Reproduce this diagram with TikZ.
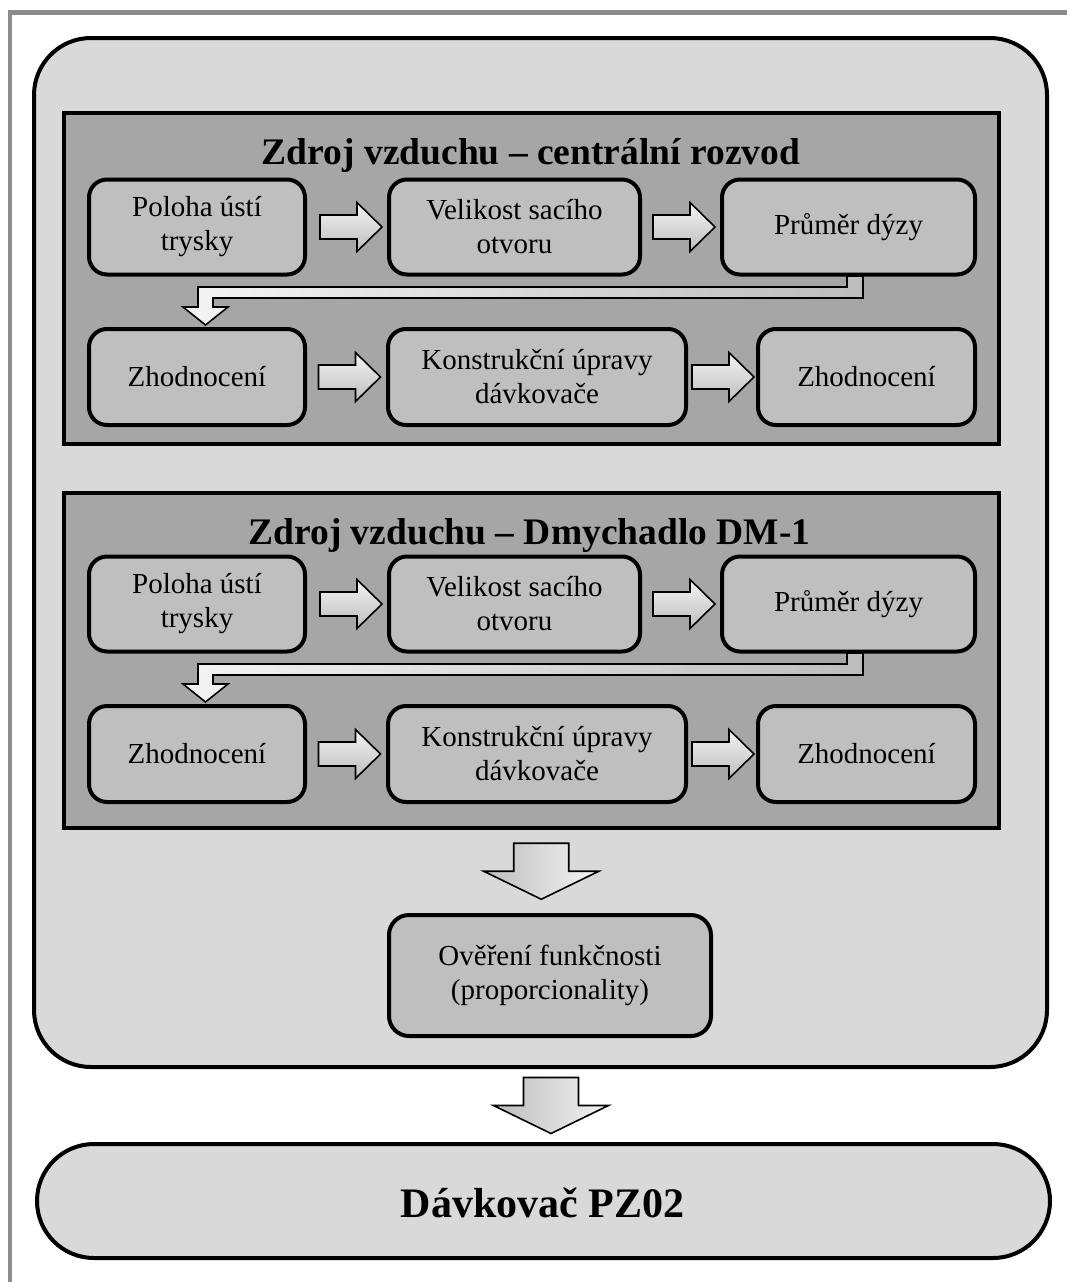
\documentclass[tikz,border=0pt]{standalone}
\usepackage{fontspec}
\setmainfont{Liberation Serif}
\usetikzlibrary{calc}
\definecolor{framegray}{HTML}{8C8C8C}
\definecolor{outerfill}{HTML}{D9D9D9}
\definecolor{secfill}{HTML}{A6A6A6}
\definecolor{boxfill}{HTML}{BFBFBF}
\definecolor{arrlight}{HTML}{F4F4F4}
\definecolor{arrdark}{HTML}{BDBDBD}
\tikzset{
 stepbox/.style={draw=black, line width=4pt, fill=boxfill, rounded corners=18pt, align=center,
   font=\fontsize{29}{34}\selectfont, inner sep=0pt},
 secbox/.style={draw=black, line width=4pt, fill=secfill, inner sep=0pt},
 titletext/.style={font=\fontsize{37.5}{40}\selectfont\bfseries, anchor=base, inner sep=0pt},
 arrowshape/.style={draw=black, line width=1.6pt, line join=miter},
 rarr/.pic={\draw[arrowshape, top color=arrlight, bottom color=arrdark]
   (-31,-12) -- (6,-12) -- (6,-24.5) -- (31,0) -- (6,24.5) -- (6,12) -- (-31,12) -- cycle;},
 darr/.pic={\draw[arrowshape, left color=arrdark, right color=arrlight]
   (-27.5,-28) -- (27.5,-28) -- (27.5,0) -- (57.5,0) -- (0,28) -- (-57.5,0) -- (-27.5,0) -- cycle;},
}
\begin{document}
\begin{tikzpicture}[x=1pt,y=-1pt]
\useasboundingbox (0,0) rectangle (1067,1282);
\fill[white] (0,0) rectangle (1067,1282);
\draw[framegray, line width=4.5pt] (10,1290) -- (10,12.5) -- (1075,12.5);

% outer container
\node[draw=black, line width=4pt, fill=outerfill, rounded corners=57pt,
  minimum width=1013pt, minimum height=1029pt, inner sep=0pt] (outer) at (540.5,552.5) {};

% ---------- section 1 ----------
\node[secbox, minimum width=935pt, minimum height=331pt] (sec1) at (531.5,278.5) {};
\node[titletext] (t1) at (531,164) {Zdroj vzduchu – centrální rozvod};
\draw[arrowshape, left color=arrlight, right color=arrdark]
  (847,276) -- (863,276) -- (863,298) -- (213,298) -- (213,307) -- (228,307) -- (205.5,325)
  -- (183,307) -- (198,307) -- (198,287) -- (847,287) -- cycle;
\node[stepbox, minimum width=216pt, minimum height=95pt] (b1) at (197,227) {Poloha ústí\\trysky};
\node[stepbox, minimum width=251pt, minimum height=95pt] (b2) at (514.5,227) {Velikost sacího\\otvoru};
\node[stepbox, minimum width=253pt, minimum height=95pt] (b3) at (848.5,227) {Průměr dýzy};
\node[stepbox, minimum width=216pt, minimum height=96pt] (b4) at (197,377) {Zhodnocení};
\node[stepbox, minimum width=298pt, minimum height=96pt] (b5) at (537,377) {Konstrukční úpravy\\dávkovače};
\node[stepbox, minimum width=217pt, minimum height=96pt] (b6) at (866.5,377) {Zhodnocení};
\pic at ($(b1.east)!0.5!(b2.west)+(4,0)$) {rarr};
\pic at ($(b2.east)!0.5!(b3.west)+(3,0)$) {rarr};
\pic at ($(b4.east)!0.5!(b5.west)+(3,0)$) {rarr};
\pic at ($(b5.east)!0.5!(b6.west)+(1,0)$) {rarr};

% ---------- section 2 ----------
\node[secbox, minimum width=935pt, minimum height=335pt] (sec2) at (531.5,660) {};
\node[titletext] (t2) at (529.5,544) {Zdroj vzduchu – Dmychadlo DM-1};
\draw[arrowshape, left color=arrlight, right color=arrdark]
  (847,653) -- (863,653) -- (863,675) -- (213,675) -- (213,684) -- (228,684) -- (205.5,702)
  -- (183,684) -- (198,684) -- (198,664) -- (847,664) -- cycle;
\node[stepbox, minimum width=216pt, minimum height=95pt] (c1) at (197,604) {Poloha ústí\\trysky};
\node[stepbox, minimum width=251pt, minimum height=95pt] (c2) at (514.5,604) {Velikost sacího\\otvoru};
\node[stepbox, minimum width=253pt, minimum height=95pt] (c3) at (848.5,604) {Průměr dýzy};
\node[stepbox, minimum width=216pt, minimum height=96pt] (c4) at (197,754) {Zhodnocení};
\node[stepbox, minimum width=298pt, minimum height=96pt] (c5) at (537,754) {Konstrukční úpravy\\dávkovače};
\node[stepbox, minimum width=217pt, minimum height=96pt] (c6) at (866.5,754) {Zhodnocení};
\pic at ($(c1.east)!0.5!(c2.west)+(4,0)$) {rarr};
\pic at ($(c2.east)!0.5!(c3.west)+(3,0)$) {rarr};
\pic at ($(c4.east)!0.5!(c5.west)+(3,0)$) {rarr};
\pic at ($(c5.east)!0.5!(c6.west)+(1,0)$) {rarr};

% ---------- verification ----------
\node[stepbox, rounded corners=20pt, minimum width=322pt, minimum height=121pt] (ov) at (550,975.5)
  {Ověření funkčnosti\\(proporcionality)};
\pic at ($(sec2.south)!0.5!(ov.north)+(0.5,0)$) {darr};

% ---------- result ----------
\node[draw=black, line width=4pt, fill=outerfill, rounded corners=57pt,
  minimum width=1013pt, minimum height=114pt, inner sep=0pt] (pz) at (543.5,1201) {};
\node[font=\fontsize{42}{44}\selectfont\bfseries, anchor=base, inner sep=0pt] (pzt) at (542.5,1217) {Dávkovač PZ02};
\pic at ($(outer.south)!0.5!(pz.north)+(9,0)$) {darr};
\end{tikzpicture}
\end{document}
